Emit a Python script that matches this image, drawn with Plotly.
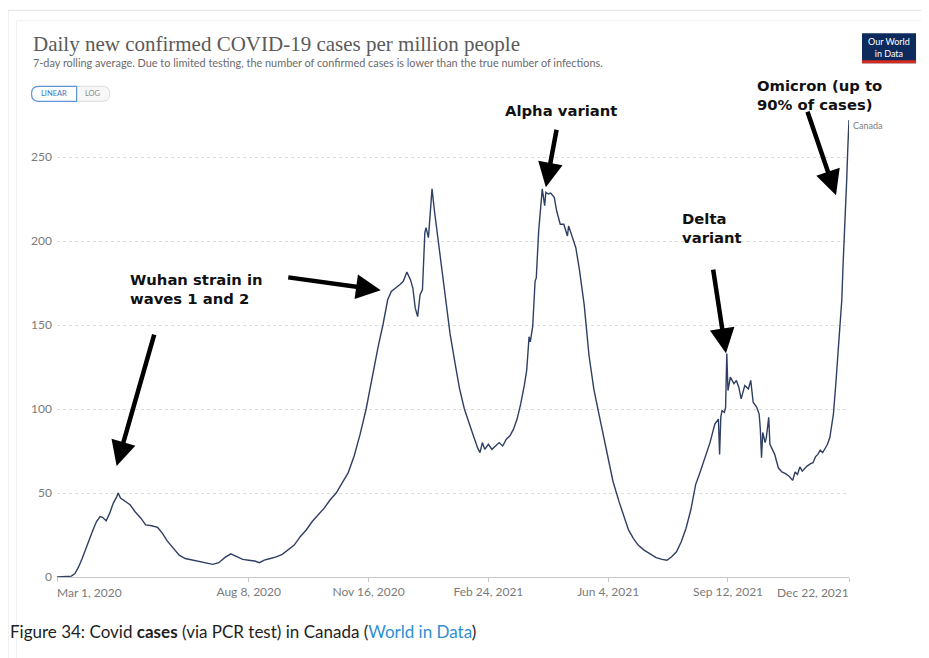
import plotly.graph_objects as go

# ---------------- data ----------------
dates = [
    "2020-03-01", "2020-03-08", "2020-03-13", "2020-03-16", "2020-03-19", "2020-03-22", "2020-03-25",
    "2020-03-28", "2020-03-31", "2020-04-03", "2020-04-06", "2020-04-08", "2020-04-11", "2020-04-14",
    "2020-04-17", "2020-04-20", "2020-04-21", "2020-04-23", "2020-04-27", "2020-05-01", "2020-05-05",
    "2020-05-10", "2020-05-14", "2020-05-19", "2020-05-24", "2020-05-28", "2020-06-01", "2020-06-06",
    "2020-06-11", "2020-06-16", "2020-06-22", "2020-06-28", "2020-07-03", "2020-07-09", "2020-07-14",
    "2020-07-19", "2020-07-24", "2020-07-29", "2020-08-03", "2020-08-08", "2020-08-13", "2020-08-17",
    "2020-08-21", "2020-08-26", "2020-08-31", "2020-09-05", "2020-09-10", "2020-09-15", "2020-09-20",
    "2020-09-25", "2020-09-30", "2020-10-05", "2020-10-10", "2020-10-15", "2020-10-20", "2020-10-25",
    "2020-10-30", "2020-11-04", "2020-11-09", "2020-11-14", "2020-11-18", "2020-11-21", "2020-11-24",
    "2020-11-28", "2020-12-02", "2020-12-05", "2020-12-09", "2020-12-12", "2020-12-15", "2020-12-18",
    "2020-12-21", "2020-12-23", "2020-12-25", "2020-12-27", "2020-12-29", "2020-12-31", "2021-01-02",
    "2021-01-03", "2021-01-05", "2021-01-07", "2021-01-08", "2021-01-10", "2021-01-12", "2021-01-15",
    "2021-01-19", "2021-01-23", "2021-01-27", "2021-01-31", "2021-02-04", "2021-02-08", "2021-02-12",
    "2021-02-15", "2021-02-17", "2021-02-19", "2021-02-21", "2021-02-24", "2021-02-27", "2021-03-02",
    "2021-03-05", "2021-03-08", "2021-03-11", "2021-03-14", "2021-03-17", "2021-03-20", "2021-03-23",
    "2021-03-26", "2021-03-28", "2021-03-30", "2021-03-31", "2021-04-02", "2021-04-04", "2021-04-05",
    "2021-04-07", "2021-04-10", "2021-04-12", "2021-04-13", "2021-04-15", "2021-04-17", "2021-04-20",
    "2021-04-22", "2021-04-25", "2021-04-28", "2021-05-01", "2021-05-02", "2021-05-05", "2021-05-08",
    "2021-05-11", "2021-05-15", "2021-05-19", "2021-05-23", "2021-05-27", "2021-05-31", "2021-06-04",
    "2021-06-08", "2021-06-13", "2021-06-17", "2021-06-21", "2021-06-25", "2021-06-29", "2021-07-04",
    "2021-07-09", "2021-07-14", "2021-07-19", "2021-07-23", "2021-07-27", "2021-07-31", "2021-08-04",
    "2021-08-08", "2021-08-12", "2021-08-16", "2021-08-20", "2021-08-24", "2021-08-28", "2021-09-01",
    "2021-09-04", "2021-09-05", "2021-09-06", "2021-09-07", "2021-09-09", "2021-09-10", "2021-09-11",
    "2021-09-12", "2021-09-14", "2021-09-17", "2021-09-19", "2021-09-21", "2021-09-23", "2021-09-26",
    "2021-09-29", "2021-10-01", "2021-10-03", "2021-10-06", "2021-10-08", "2021-10-09", "2021-10-10",
    "2021-10-11", "2021-10-13", "2021-10-14", "2021-10-16", "2021-10-17", "2021-10-19", "2021-10-21",
    "2021-10-24", "2021-10-27", "2021-10-30", "2021-11-02", "2021-11-05", "2021-11-07", "2021-11-09",
    "2021-11-11", "2021-11-13", "2021-11-15", "2021-11-17", "2021-11-20", "2021-11-22", "2021-11-24",
    "2021-11-26", "2021-11-28", "2021-11-30", "2021-12-02", "2021-12-04", "2021-12-06", "2021-12-08",
    "2021-12-09", "2021-12-11", "2021-12-12", "2021-12-13", "2021-12-14", "2021-12-15", "2021-12-16",
    "2021-12-17", "2021-12-18", "2021-12-19", "2021-12-20", "2021-12-21", "2021-12-22",
]
cases_per_million = [
    0, 0.2, 0.5, 2, 6, 11, 17,
    22, 28, 33, 36, 35.5, 33.5, 38,
    44, 48, 50, 47, 45, 43, 39,
    35, 31, 30.5, 29.5, 26, 21.5, 17,
    13, 11, 10, 9, 8.3, 7.5, 8.5,
    11.5, 13.8, 12, 10.5, 10, 9.5, 8.5,
    10, 11, 12, 13.5, 16, 19, 24,
    28, 33, 37, 41, 46, 50, 56,
    62, 72, 85, 100, 115, 125, 137,
    150, 165, 170, 172, 174, 176, 181.5,
    177, 172, 160, 155, 168, 171, 205,
    208, 202, 222, 231, 218, 207, 191,
    166, 145, 128, 112, 100, 91, 83,
    77, 74, 80, 76, 79, 76, 78,
    80, 78, 82, 84, 88, 94, 103,
    114, 123, 143, 140, 149, 176, 178,
    206, 231, 221, 229, 228, 228.5, 226,
    218, 210, 210, 203, 209, 203, 196,
    183, 162, 132, 112, 98, 84, 70,
    57, 45, 36, 28, 23, 19, 16,
    13.5, 11.5, 10.5, 10, 12, 15, 21,
    29, 40, 55, 63, 71, 80, 91,
    94, 73, 95, 99, 98, 101, 133,
    111, 119, 115, 117, 113, 106, 114,
    112, 117, 104, 101, 97, 88, 71,
    86, 80, 83, 95, 79, 76, 73,
    65, 62.5, 61.5, 60, 57.5, 62.5, 61,
    65.5, 63, 64.5, 66, 67.5, 68, 71.5,
    73, 75.5, 74, 76.5, 79, 83, 91,
    97, 115, 125, 135, 148, 160, 165,
    185, 200, 218, 235, 255, 272,
]
series_name = "Canada"

y_ticks = [0, 50, 100, 150, 200, 250]
x_tick_dates = ["2020-03-01", "2020-08-08", "2020-11-16", "2021-02-24", "2021-06-04", "2021-09-12", "2021-12-22"]
x_tick_labels = ["Mar 1, 2020", "Aug 8, 2020", "Nov 16, 2020", "Feb 24, 2021", "Jun 4, 2021", "Sep 12, 2021", "Dec 22, 2021"]

title_text = "Daily new confirmed COVID-19 cases per million people"
subtitle_text = ("7-day rolling average. Due to limited testing, the number of confirmed cases "
                 "is lower than the true number of infections.")
caption_text = ("Figure 34: Covid <b>cases</b> (via PCR test) in Canada "
                "(<span style='color:#2f8fd0'>World in Data</span>)")

# ---------------- layout geometry ----------------
# the page puts the figure 8px from the window's top-left corner; all positions
# below are given in window pixels and converted.
OFF = 8
W, H = 929, 658
PLOT_L, PLOT_R, PLOT_T, PLOT_B = 57.4, 849, 114.7, 577  # window pixels
ML = PLOT_L - OFF
MR = W - (PLOT_R - OFF)
MT = PLOT_T - OFF
MB = H - (PLOT_B - OFF)
PW, PH = W - ML - MR, H - MT - MB


def px(x):
    return (x - OFF - ML) / PW


def py(y):
    return (H - MB - (y - OFF)) / PH


def rpath(x0, y0, x1, y1, r, left=True, right=True):
    pts = []
    if left:
        pts.append(f"M{px(x0 + r)},{py(y0)}")
    else:
        pts.append(f"M{px(x0)},{py(y0)}")
    if right:
        pts.append(f"L{px(x1 - r)},{py(y0)}")
        pts.append(f"Q{px(x1)},{py(y0)} {px(x1)},{py(y0 + r)}")
        pts.append(f"L{px(x1)},{py(y1 - r)}")
        pts.append(f"Q{px(x1)},{py(y1)} {px(x1 - r)},{py(y1)}")
    else:
        pts.append(f"L{px(x1)},{py(y0)}")
        pts.append(f"L{px(x1)},{py(y1)}")
    if left:
        pts.append(f"L{px(x0 + r)},{py(y1)}")
        pts.append(f"Q{px(x0)},{py(y1)} {px(x0)},{py(y1 - r)}")
        pts.append(f"L{px(x0)},{py(y0 + r)}")
        pts.append(f"Q{px(x0)},{py(y0)} {px(x0 + r)},{py(y0)}")
    else:
        pts.append(f"L{px(x0)},{py(y1)}")
    pts.append("Z")
    return " ".join(pts)


fig = go.Figure()
fig.add_trace(go.Scatter(
    x=dates, y=cases_per_million, mode="lines", name=series_name,
    line=dict(color="#2f3f63", width=1.4), hoverinfo="x+y",
))

shapes = [
    # page frame
    dict(type="rect", xref="paper", yref="paper", x0=px(8.5), x1=px(925), y0=py(10), y1=py(720),
         line=dict(color="#e2e2e2", width=1), fillcolor="rgba(0,0,0,0)", layer="below"),
    dict(type="rect", xref="paper", yref="paper", x0=px(17), x1=px(925), y0=py(20), y1=py(720),
         line=dict(color="#f0f0f0", width=1), fillcolor="rgba(0,0,0,0)", layer="below"),
    # LINEAR / LOG pill
    dict(type="path", xref="paper", yref="paper", path=rpath(32, 86, 110, 101, 7),
         line=dict(color="#dcdcdc", width=1), fillcolor="#f7f7f7"),
    dict(type="path", xref="paper", yref="paper", path=rpath(32, 86, 77, 101, 7, right=False),
         line=dict(color="#5e95d6", width=1.2), fillcolor="#ffffff"),
    # OWID logo
    dict(type="rect", xref="paper", yref="paper", x0=px(862), x1=px(916), y0=py(33), y1=py(63),
         line=dict(width=0), fillcolor="#0d2a5c"),
    dict(type="rect", xref="paper", yref="paper", x0=px(862), x1=px(916), y0=py(60), y1=py(63),
         line=dict(width=0), fillcolor="#d42b21"),
]

annotations = [
    dict(xref="paper", yref="paper", x=px(31), y=py(44), xanchor="left", yanchor="middle",
         text=title_text, showarrow=False,
         font=dict(family="Liberation Serif, serif", size=21, color="#5a5a5a")),
    dict(xref="paper", yref="paper", x=px(31), y=py(62), xanchor="left", yanchor="middle",
         text=subtitle_text, showarrow=False,
         font=dict(family="Lato, sans-serif", size=10.9, color="#6b6b6b")),
    dict(xref="paper", yref="paper", x=px(54.5), y=py(93.5), xanchor="center", yanchor="middle",
         text="LINEAR", showarrow=False,
         font=dict(family="Lato, sans-serif", size=7.5, color="#3a72c2")),
    dict(xref="paper", yref="paper", x=px(93), y=py(93.5), xanchor="center", yanchor="middle",
         text="LOG", showarrow=False,
         font=dict(family="Lato, sans-serif", size=7.5, color="#8a8a8a")),
    dict(xref="paper", yref="paper", x=px(889), y=py(47), xanchor="center", yanchor="middle",
         text="Our World<br>in Data", showarrow=False,
         font=dict(family="Lato, sans-serif", size=9, color="#ffffff")),
    # series label at the line's end
    dict(x=dates[-1], y=cases_per_million[-1], xanchor="left", yanchor="middle", xshift=2, yshift=-5,
         text=series_name, showarrow=False,
         font=dict(family="Lato, sans-serif", size=9, color="#808080")),
    # end-aligned x tick labels
    dict(x=x_tick_dates[0], y=0, xref="x", yref="y", xanchor="left", yanchor="top", yshift=-6, xshift=-2,
         text=x_tick_labels[0], showarrow=False,
         font=dict(family="Lato, sans-serif", size=12, color="#7a7a7a")),
    dict(x=x_tick_dates[-1], y=0, xref="x", yref="y", xanchor="right", yanchor="top", yshift=-6, xshift=2,
         text=x_tick_labels[-1], showarrow=False,
         font=dict(family="Lato, sans-serif", size=12, color="#7a7a7a")),
    # caption below the chart
    dict(xref="paper", yref="paper", x=px(8), y=py(632), xanchor="left", yanchor="middle",
         text=caption_text, showarrow=False,
         font=dict(family="Lato, sans-serif", size=17, color="#1e1e1e")),
]

note_font = dict(family="DejaVu Sans, sans-serif", size=14.8, color="#111111")
notes = [
    ("<b>Wuhan strain in<br>waves 1 and 2</b>", 128, 289),
    ("<b>Alpha variant</b>", 503, 110),
    ("<b>Delta<br>variant</b>", 680, 228),
    ("<b>Omicron (up to<br>90% of cases)</b>", 755, 95),
]
for txt, x, y in notes:
    annotations.append(dict(xref="paper", yref="paper", x=px(x), y=py(y), xanchor="left",
                            yanchor="middle", align="left", text=txt, showarrow=False, font=note_font))

arrows = [
    ((155, 333), (117, 466)),
    ((287, 277), (381, 290)),
    ((557, 128), (546, 187)),
    ((713, 268), (726, 353)),
    ((807, 110), (836, 195)),
]
for (tx, ty), (hx, hy) in arrows:
    annotations.append(dict(xref="paper", yref="paper", x=px(hx), y=py(hy), ax=tx - hx, ay=ty - hy,
                            text="", showarrow=True, arrowhead=2, arrowsize=1.1, arrowwidth=4.5,
                            arrowcolor="#000000", standoff=0, startstandoff=0))

fig.update_layout(
    width=W, height=H,
    margin=dict(l=ML, r=MR, t=MT, b=MB, pad=0),
    paper_bgcolor="#ffffff", plot_bgcolor="#ffffff",
    showlegend=False,
    shapes=shapes,
    annotations=annotations,
    font=dict(family="Lato, sans-serif"),
)
fig.update_xaxes(
    type="date", range=[dates[0], dates[-1]],
    tickvals=x_tick_dates, ticktext=[""] + x_tick_labels[1:-1] + [""],
    showgrid=False, zeroline=False,
    showline=True, linecolor="#c8c8c8", linewidth=1,
    ticks="outside", ticklen=4, tickcolor="#c8c8c8",
    tickfont=dict(family="Lato, sans-serif", size=12, color="#7a7a7a"),
)
fig.update_yaxes(
    range=[0, 275], tickvals=y_ticks,
    showgrid=True, gridcolor="#dcdcdc", griddash="dot", gridwidth=1,
    zeroline=False, showline=False, ticks="", ticklabelstandoff=4,
    tickfont=dict(family="Lato, sans-serif", size=12, color="#7a7a7a"),
)

fig.write_html("out.html")
